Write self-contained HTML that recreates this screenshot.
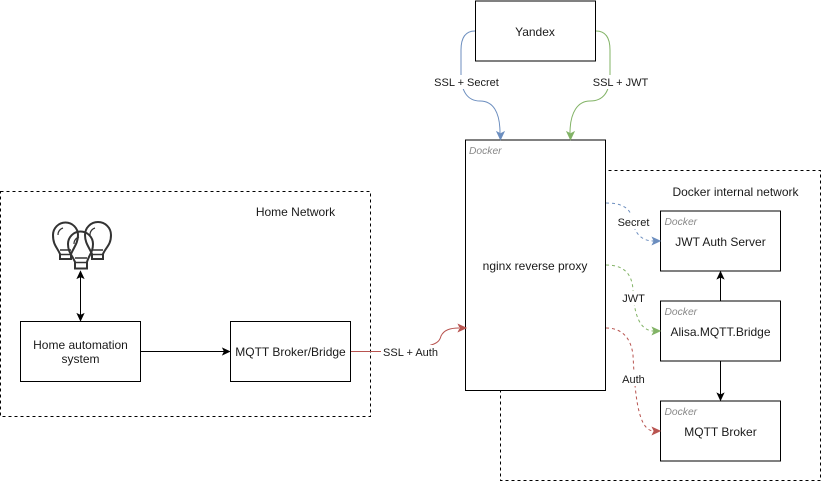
<!DOCTYPE html>
<html><head><meta charset="utf-8">
<style>html,body{margin:0;padding:0;background:#fff}svg{display:block}
text{font-family:"Liberation Sans",sans-serif;font-size:12px;fill:#1a1a1a;text-anchor:middle}
.e{font-size:11px}
.d{font-size:10.3px;font-style:italic;fill:#888;text-anchor:start}</style></head>
<body>
<svg width="821" height="481" viewBox="0 0 821 481" xmlns="http://www.w3.org/2000/svg">
<g fill="none" stroke="#000">
<rect x="0.5" y="191.5" width="370" height="225" stroke-dasharray="3 3"/>
<rect x="500.5" y="170.5" width="320" height="310" stroke-dasharray="3 3"/>
<rect x="475.5" y="1" width="120" height="60" fill="#fff"/>
<rect x="465.5" y="140" width="140" height="250.5" fill="#fff"/>
<rect x="660.5" y="211" width="120" height="60" fill="#fff"/>
<rect x="660.5" y="301" width="120" height="60" fill="#fff"/>
<rect x="660.5" y="401" width="120" height="60" fill="#fff"/>
<rect x="20.5" y="321.5" width="120" height="60" fill="#fff"/>
<rect x="230.5" y="321.5" width="120" height="60" fill="#fff"/>
<!-- black connectors -->
<path d="M80.5 277V315M140.5 351.5H224M720.5 301V277M720.5 361V395"/>
</g>
<g fill="#000" stroke="#000" stroke-width="0.6">
<path d="M80.500 271L84 278.500L80.500 276.800L77 278.500Z"/>
<path d="M80.500 321L77 313.500L80.500 315.200L84 313.500Z"/>
<path d="M230 351.500L222.500 348L224.200 351.500L222.500 355Z"/>
<path d="M720.500 271.500L724 279L720.500 277.200L717 279Z"/>
<path d="M720.500 400.500L717 393L720.500 394.800L724 393Z"/>
</g>
<!-- bulbs -->
<g fill="none" stroke="#333" stroke-width="2">
<path d="M60 254C57 247 53 245 53 235A12.500 12.500 0 0 1 78 235C78 243 74 247 71 254V259H60Z"/>
<path d="M92 254C89 247 85 243 85 235A13 13 0 0 1 111 235C111 245 106 247 103 254V259H92Z"/>
<path d="M75 262C72 255 68 252 68 244A12.500 12.500 0 0 1 93 244C93 252 89 255 87 262V268.500H75Z"/>
<path d="M60 250H71M60 254.500H71M92 250H103M92 254.500H103M75 258H87M75 262.500H87" stroke-width="1.500"/>
<path d="M58 235A7 7 0 0 1 63 228M90 235A7 7 0 0 1 95 228M74 244A7 7 0 0 1 79 237" stroke-width="1.200"/>
</g>
<!-- colored solid -->
<g fill="none" stroke-width="1">
<path d="M475 31C465 31 461 38 461 50V74C461 92 468 101 480 101C493 101 500 112 500 133" stroke="#6c8ebf"/>
<path d="M596 31C606 31 610 38 610 50V74C610 92 603 101 590 101C578 101 570 112 570 133" stroke="#82b366"/>
<path d="M351 351.500H410C424 351.500 429 346 431 345C438 343 440 340 441 336C444 330 450 328 459 328" stroke="#b85450"/>
</g>
<path d="M500.500 139.500L497 132L500.500 133.800L504 132Z" fill="#6c8ebf" stroke="#6c8ebf"/>
<path d="M570.500 139.500L567 132L570.500 133.800L574 132Z" fill="#82b366" stroke="#82b366"/>
<path d="M466 328L458.500 324.500L460.200 328L458.500 331.500Z" fill="#b85450" stroke="#b85450"/>
<!-- dashed colored -->
<g fill="none" stroke-dasharray="3 3">
<path d="M606 203C620 203 630 207 632 218C634 232 640 241 654 241" stroke="#6c8ebf"/>
<path d="M606 265C622 265 632 272 633 290C634 315 640 331 654 331" stroke="#82b366"/>
<path d="M606 328C622 328 631 338 633 355C635 395 638 431 654 431" stroke="#b85450"/>
</g>
<path d="M660 241L652.500 237.500L654.200 241L652.500 244.500Z" fill="#6c8ebf" stroke="#6c8ebf"/>
<path d="M660 331L652.500 327.500L654.200 331L652.500 334.500Z" fill="#82b366" stroke="#82b366"/>
<path d="M660 431L652.500 427.500L654.200 431L652.500 434.500Z" fill="#b85450" stroke="#b85450"/>
<!-- labels with white bg -->
<g fill="#fff">
<rect x="433" y="75" width="67" height="14"/><rect x="592" y="75" width="57" height="14"/>
<rect x="381" y="345" width="58" height="14"/><rect x="617" y="215" width="33" height="14"/>
<rect x="622" y="291" width="24" height="14"/><rect x="622" y="372" width="24" height="14"/>
</g>
<text x="535" y="36">Yandex</text>
<text class="e" x="466.500" y="86">SSL + Secret</text>
<text class="e" x="620.500" y="86">SSL + JWT</text>
<text x="535" y="270">nginx reverse proxy</text>
<text class="e" x="410.500" y="356">SSL + Auth</text>
<text class="e" x="633.500" y="226">Secret</text>
<text class="e" x="633.500" y="302">JWT</text>
<text class="e" x="633.500" y="383">Auth</text>
<text x="735.500" y="196">Docker internal network</text>
<text x="295.500" y="216">Home Network</text>
<text x="720.500" y="246">JWT Auth Server</text>
<text x="720.500" y="336">Alisa.MQTT.Bridge</text>
<text x="720.500" y="436">MQTT Broker</text>
<text x="80.500" y="349">Home automation</text>
<text x="80.500" y="363">system</text>
<text x="290.500" y="356">MQTT Broker/Bridge</text>
<text class="d" x="469" y="154">Docker</text>
<text class="d" x="664.500" y="225">Docker</text>
<text class="d" x="664.500" y="315">Docker</text>
<text class="d" x="664.500" y="415">Docker</text>
</svg>
</body></html>
